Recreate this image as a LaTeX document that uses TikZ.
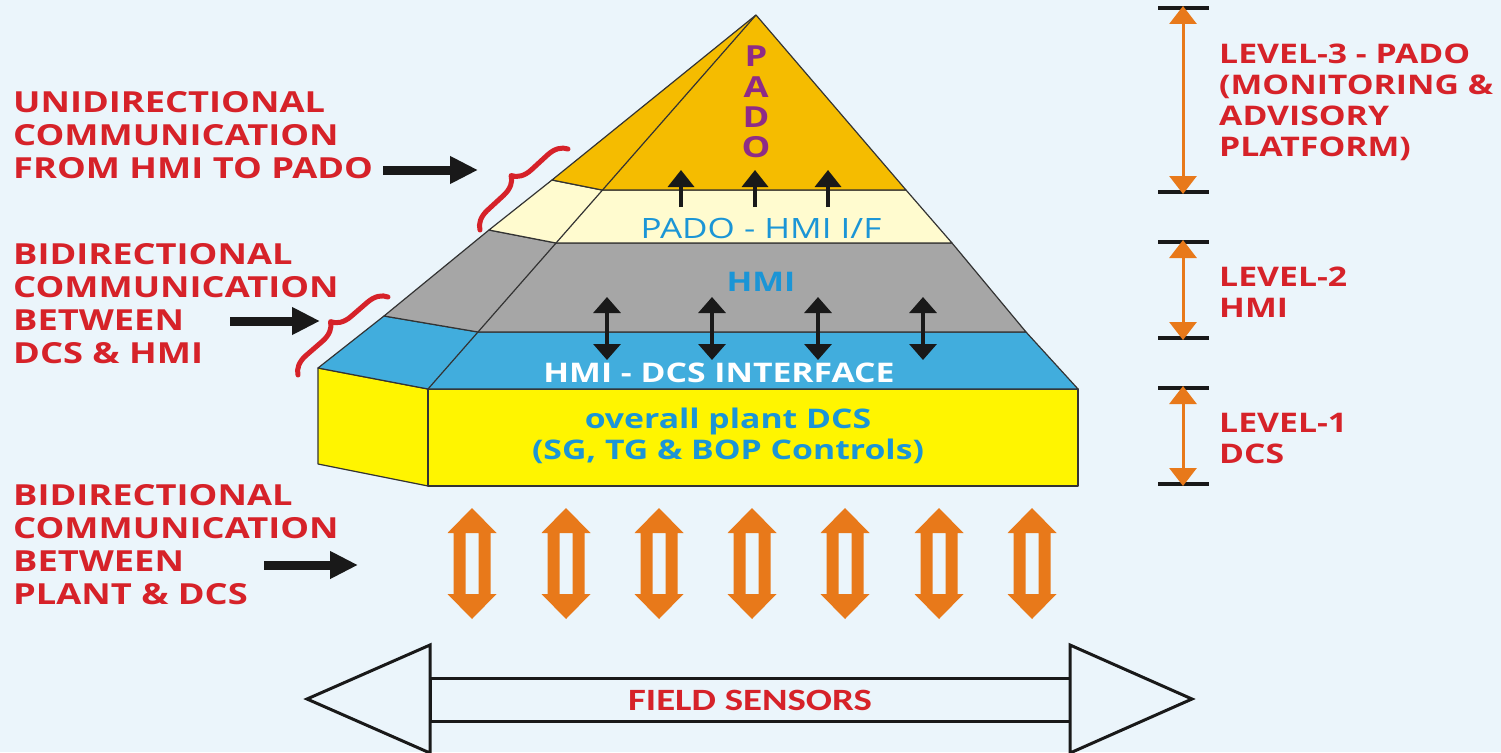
\documentclass[tikz,border=0pt]{standalone}
\usepackage{fontspec}
\setmainfont{Open Sans}
\newfontfamily\lblfont[FakeStretch=1.25]{Open Sans}
\newfontfamily\calfnt[FakeStretch=1.25]{Carlito}
\usetikzlibrary{arrows.meta,decorations.pathreplacing}
\definecolor{bg}{HTML}{EBF5FB}
\definecolor{gold}{HTML}{F5BC00}
\definecolor{pale}{HTML}{FFFBCF}
\definecolor{grayband}{HTML}{A6A6A6}
\definecolor{blueband}{HTML}{41ADDD}
\definecolor{ybox}{HTML}{FFF500}
\definecolor{lblred}{HTML}{D62229}
\definecolor{txtblue}{HTML}{1B95D6}
\definecolor{purp}{HTML}{8E2B87}
\definecolor{orng}{HTML}{E8791A}
\definecolor{edge}{HTML}{333333}
\tikzset{
  face/.style={draw=edge, line width=1.2pt, line join=round},
  lbltxt/.style={inner sep=0pt, anchor=west, align=left, text=lblred,
     font=\lblfont\bfseries\fontsize{29}{33}\selectfont},
  lvltxt/.style={inner sep=0pt, anchor=west, align=left, text=lblred,
     font=\lblfont\bfseries\fontsize{27}{31}\selectfont},
  pyrtxt/.style={inner sep=0pt, font=\lblfont\bfseries\fontsize{27}{31}\selectfont},
  blkarrow/.style={line width=9pt, -{Triangle[length=28pt,width=26pt]}, black!90},
  uparrow/.style={line width=3.5pt, -{Triangle[length=17pt,width=26pt]}, black!90},
  dblarrow/.style={line width=3.5pt, {Triangle[length=16pt,width=27pt]}-{Triangle[length=16pt,width=27pt]}, black!90},
  lvlarrow/.style={line width=3pt, {Triangle[length=18pt,width=27pt]}-{Triangle[length=18pt,width=27pt]}, orng},
  lvlbar/.style={line width=4pt, black!90},
  bracestyle/.style={lblred, line width=5pt, line cap=round, line join=round, decorate, decoration={brace, amplitude=19pt}},
  fieldbox/.style={draw=black!90, line width=3pt, fill=bg, line join=miter}
}
\begin{document}
\begin{tikzpicture}[x=1pt,y=-1pt]
\fill[bg] (0,0) rectangle (1501,752);
\useasboundingbox (0,0) rectangle (1501,752);

% pyramid points
\coordinate (A) at (756,15);
\coordinate (L1) at (552,180);
\coordinate (L2) at (489,230);
\coordinate (L3) at (384,316);
\coordinate (L4) at (318,368);
\coordinate (F1) at (602,190);
\coordinate (F2) at (556,243);
\coordinate (F3) at (478,332);
\coordinate (F4) at (428,389);
\coordinate (R1) at (906,190);
\coordinate (R2) at (952,243);
\coordinate (R3) at (1026,332);
\coordinate (R4) at (1078,389);
\coordinate (B4) at (428,486);
\coordinate (BR) at (1078,486);
\coordinate (BL) at (318,464);

% yellow box
\filldraw[face, fill=ybox] (L4) -- (F4) -- (B4) -- (BL) -- cycle;
\filldraw[face, fill=ybox] (F4) rectangle (BR);
% bands
\filldraw[face, fill=blueband] (L3) -- (L4) -- (F4) -- (R4) -- (R3) -- (F3) -- cycle;
\filldraw[face, fill=grayband] (L2) -- (L3) -- (F3) -- (R3) -- (R2) -- (F2) -- cycle;
\filldraw[face, fill=pale] (L1) -- (L2) -- (F2) -- (R2) -- (R1) -- (F1) -- cycle;
\filldraw[face, fill=gold] (A) -- (L1) -- (F1) -- (R1) -- cycle;
\draw[face] (A) -- (F4);

% pyramid texts
\node[pyrtxt, text=purp, font=\lblfont\bfseries\fontsize{29}{31}\selectfont] (p1) at (756,56) {P};
\node[pyrtxt, text=purp, font=\lblfont\bfseries\fontsize{29}{31}\selectfont] (p2) at (756,87) {A};
\node[pyrtxt, text=purp, font=\lblfont\bfseries\fontsize{29}{31}\selectfont] (p3) at (756,117) {D};
\node[pyrtxt, text=purp, font=\lblfont\bfseries\fontsize{29}{31}\selectfont] (p4) at (756,147) {O};
\node[inner sep=0pt, text=txtblue, font=\lblfont\fontsize{28}{31}\selectfont] (pif) at (761,228) {PADO - HMI I/F};
\node[pyrtxt, text=txtblue] (hmi) at (761,282) {HMI};
\node[pyrtxt, text=white] (hdi) at (719,373) {HMI - DCS INTERFACE};
\node[pyrtxt, text=txtblue, align=center] (dcs) at (728,436) {overall plant DCS\\(SG, TG \& BOP Controls)};

% up arrows PADO
\foreach \x [count=\i] in {681,755,828} {
  \coordinate (us\i) at (\x,207);
  \coordinate (ue\i) at (\x,170);
  \draw[uparrow] (us\i) -- (ue\i);
}
% double arrows HMI-DCS
\foreach \x [count=\i] in {607,712,818,923} {
  \coordinate (ds\i) at (\x,297);
  \coordinate (de\i) at (\x,360);
  \draw[dblarrow] (ds\i) -- (de\i);
}

% orange hollow double arrows
\foreach \cx [count=\i] in {472,566,659,752,845,939,1032} {
  \fill[orng, even odd rule] (\cx,508) -- (\cx+24.5,533) -- (\cx+18.5,533) -- (\cx+18.5,594)
    -- (\cx+24.5,594) -- (\cx,619) -- (\cx-24.5,594) -- (\cx-18.5,594) -- (\cx-18.5,533)
    -- (\cx-24.5,533) -- cycle
    (\cx-6.5,533) rectangle (\cx+6.5,594);
}

% field sensors arrow
\filldraw[fieldbox] (430,678) rectangle (1070,721);
\filldraw[fieldbox] (307,699) -- (430,645) -- (430,753) -- cycle;
\filldraw[fieldbox] (1192,699) -- (1070,645) -- (1070,753) -- cycle;
\node[inner sep=0pt, text=lblred, font=\calfnt\bfseries\fontsize{31}{36}\selectfont] (fs) at (750,700) {FIELD SENSORS};

% left labels
\node[lbltxt] (lab1) at (13,135) {UNIDIRECTIONAL\\COMMUNICATION\\FROM HMI TO PADO};
\node[lbltxt] (lab2) at (13,304) {BIDIRECTIONAL\\COMMUNICATION\\BETWEEN\\DCS \& HMI};
\node[lbltxt] (lab3) at (13,545) {BIDIRECTIONAL\\COMMUNICATION\\BETWEEN\\PLANT \& DCS};

\coordinate (a1s) at (383,170); \coordinate (a1e) at (478,170);
\coordinate (a2s) at (230,321); \coordinate (a2e) at (320,321);
\coordinate (a3s) at (264,565); \coordinate (a3e) at (358,565);
\draw[blkarrow] (a1s) -- (a1e);
\draw[blkarrow] (a2s) -- (a2e);
\draw[blkarrow] (a3s) -- (a3e);

% braces
\coordinate (b1a) at (480,230); \coordinate (b1b) at (568,149);
\coordinate (b2a) at (298,375); \coordinate (b2b) at (388,297);
\draw[bracestyle] (b1a) -- (b1b);
\draw[bracestyle] (b2a) -- (b2b);

% level indicators
\coordinate (t3) at (1183,8);   \coordinate (d3) at (1183,192);
\coordinate (t2) at (1183,242); \coordinate (d2) at (1183,338);
\coordinate (t1) at (1183,388); \coordinate (d1) at (1183,484);
\foreach \p in {t3,d3,t2,d2,t1,d1} {
  \draw[lvlbar] ([xshift=-25pt]\p) -- ([xshift=26pt]\p);
}
\draw[lvlarrow] ([yshift=2pt]t3) -- ([yshift=-2pt]d3);
\draw[lvlarrow] ([yshift=2pt]t2) -- ([yshift=-2pt]d2);
\draw[lvlarrow] ([yshift=2pt]t1) -- ([yshift=-2pt]d1);

\node[lvltxt] (lv3) at (1219,102) {LEVEL-3 - PADO\\(MONITORING \&\\ADVISORY\\PLATFORM)};
\node[lvltxt] (lv2) at (1219,292) {LEVEL-2\\HMI};
\node[lvltxt] (lv1) at (1219,438) {LEVEL-1\\DCS};
\end{tikzpicture}
\end{document}
